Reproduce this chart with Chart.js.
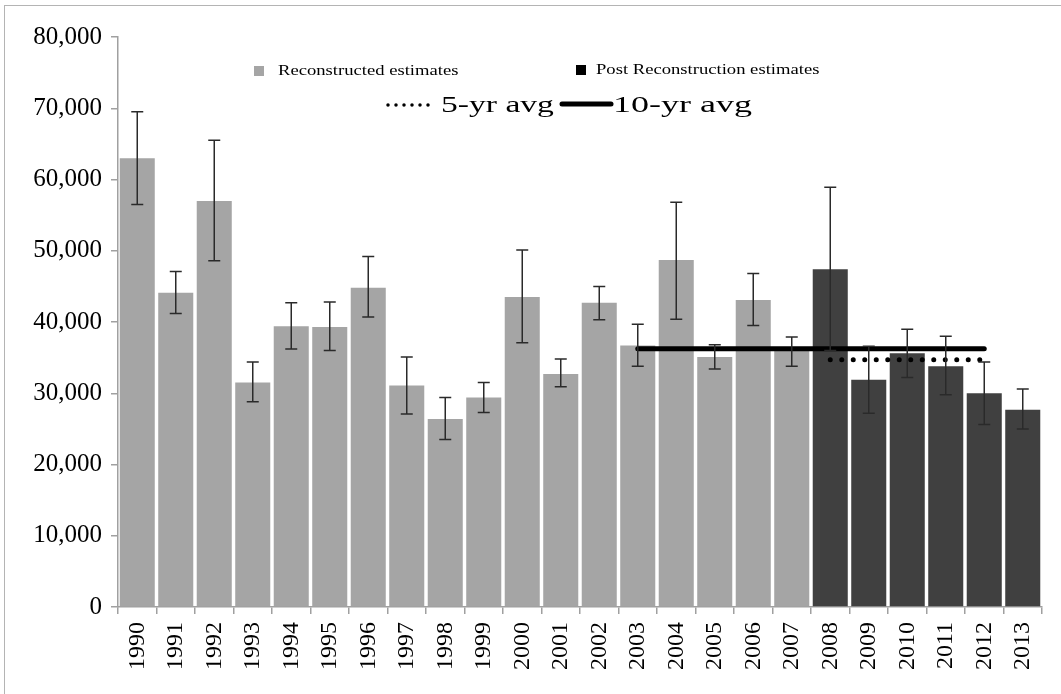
<!DOCTYPE html>
<html>
<head>
<meta charset="utf-8">
<script src="https://cdn.jsdelivr.net/npm/chart.js@4.4.1/dist/chart.umd.min.js"></script>
<style>
  html, body { margin: 0; padding: 0; background: #ffffff; }
  #wrap { position: relative; width: 1061px; height: 694px; }
  #frame { position: absolute; left: 4px; top: 5px; right: 0; bottom: 0;
           border-left: 1px solid #b4b4b4; border-top: 1px solid #b4b4b4; pointer-events: none; }
  canvas { position: absolute; left: 0; top: 0; }
</style>
</head>
<body>
<div id="wrap">
  <canvas id="chart" width="1061" height="694"></canvas>
  <div id="frame"></div>
</div>
<script>
// Annual estimates with lower / upper error limits
const years = [1990, 1991, 1992, 1993, 1994, 1995, 1996, 1997, 1998, 1999, 2000, 2001,
               2002, 2003, 2004, 2005, 2006, 2007, 2008, 2009, 2010, 2011, 2012, 2013];
const estimates = [63000, 44100, 57000, 31500, 39400, 39300, 44800, 31100, 26400, 29400, 43500, 32700,
                   42700, 36700, 48700, 35100, 43100, 36100, 47400, 31900, 35600, 33800, 30000, 27700];
const upperLimit = [69500, 47100, 65500, 34400, 42700, 42800, 49200, 35100, 29400, 31500, 50100, 34800,
                    45000, 39700, 56800, 36800, 46800, 37900, 58900, 36600, 39000, 38000, 34400, 30600];
const lowerLimit = [56500, 41200, 48600, 28800, 36200, 36000, 40700, 27100, 23500, 27300, 37100, 30900,
                    40300, 33800, 40400, 33400, 39500, 33800, 36000, 27200, 32200, 29800, 25600, 25000];
const firstPostYear = 2008;

// Running averages and the years they cover
const avg10Value = 36250;
const avg10Years = [2003, 2012];
const avg5Value = 34700;
const avg5Years = [2008, 2012];

const yTicks = [0, 10000, 20000, 30000, 40000, 50000, 60000, 70000, 80000];

const LIGHT = '#a5a5a5';
const DARK = '#404040';
const AXIS = '#a0a0a0';
const SERIF = '"Liberation Serif", "Times New Roman", serif';

const reconstructed = estimates.map((v, i) => years[i] < firstPostYear ? v : null);
const postRecon = estimates.map((v, i) => years[i] >= firstPostYear ? v : null);
const spanLine = (value, range) => years.map(y => (y >= range[0] && y <= range[1]) ? value : null);

// Vertical error bars with caps, placed through the chart's scales
const errorBars = {
  id: 'errorBars',
  afterDatasetsDraw(chart) {
    const { ctx, scales: { x, y } } = chart;
    ctx.save();
    ctx.strokeStyle = '#2a2a2a';
    ctx.lineWidth = 1.5;
    years.forEach((yr, i) => {
      const px = x.getPixelForValue(i);
      const top = y.getPixelForValue(upperLimit[i]);
      const bot = y.getPixelForValue(lowerLimit[i]);
      ctx.beginPath();
      ctx.moveTo(px, top); ctx.lineTo(px, bot);
      ctx.moveTo(px - 6, top); ctx.lineTo(px + 6, top);
      ctx.moveTo(px - 6, bot); ctx.lineTo(px + 6, bot);
      ctx.stroke();
    });
    ctx.restore();
  }
};

// Legend drawn inside the plot area
const legendBox = {
  id: 'legendBox',
  afterDraw(chart) {
    const ctx = chart.ctx;
    ctx.save();
    ctx.textBaseline = 'middle';
    ctx.textAlign = 'left';
    ctx.fillStyle = LIGHT;
    ctx.fillRect(254, 66, 10, 10);
    ctx.fillStyle = '#000000';
    ctx.fillRect(576, 65, 10, 10);

    const stretched = (text, x, y, size, sx) => {
      ctx.save();
      ctx.translate(x, y);
      ctx.scale(sx, 1);
      ctx.font = size + 'px ' + SERIF;
      ctx.fillStyle = '#000000';
      ctx.fillText(text, 0, 0);
      ctx.restore();
    };
    stretched(chart.data.datasets[0].label, 278, 71, 14, 1.33);
    stretched(chart.data.datasets[1].label, 596, 70, 14, 1.33);

    ctx.strokeStyle = '#000000';
    ctx.lineCap = 'round';
    ctx.lineWidth = 3.5;
    ctx.setLineDash([0, 8]);
    ctx.beginPath(); ctx.moveTo(388, 105); ctx.lineTo(429, 105); ctx.stroke();
    ctx.setLineDash([]);
    ctx.lineWidth = 5;
    ctx.beginPath(); ctx.moveTo(562, 104); ctx.lineTo(611, 104); ctx.stroke();

    stretched(chart.data.datasets[3].label, 441, 106, 24, 1.4);
    stretched(chart.data.datasets[2].label, 613, 106, 24, 1.5);
    ctx.restore();
  }
};

new Chart(document.getElementById('chart'), {
  type: 'bar',
  data: {
    labels: years.map(String),
    datasets: [
      { label: 'Reconstructed estimates', data: reconstructed, backgroundColor: LIGHT,
        grouped: false, barPercentage: 1, categoryPercentage: 0.91, order: 2 },
      { label: 'Post Reconstruction estimates', data: postRecon, backgroundColor: DARK,
        grouped: false, barPercentage: 1, categoryPercentage: 0.91, order: 2 },
      { type: 'line', label: '10-yr avg', data: spanLine(avg10Value, avg10Years),
        borderColor: '#000000', borderWidth: 5, borderCapStyle: 'round',
        pointRadius: 0, spanGaps: false, order: 1 },
      { type: 'line', label: '5-yr avg', data: spanLine(avg5Value, avg5Years),
        borderColor: '#000000', borderWidth: 5, borderCapStyle: 'round', borderDash: [0, 11.5],
        pointRadius: 0, spanGaps: false, order: 0 }
    ]
  },
  options: {
    responsive: false,
    animation: false,
    devicePixelRatio: 1,
    layout: { padding: { left: 0, right: 19, top: 37, bottom: 0 } },
    plugins: { legend: { display: false }, tooltip: { enabled: false } },
    scales: {
      x: {
        offset: true,
        grid: { offset: true, drawOnChartArea: false, drawTicks: true, tickLength: 7, color: AXIS, lineWidth: 1.5 },
        border: { color: AXIS, width: 1.5 },
        ticks: { minRotation: 90, maxRotation: 90, autoSkip: false, padding: 8,
                 color: '#000000', font: { family: SERIF, size: 24 } },
        afterFit(scale) { scale.height = 87; }
      },
      y: {
        min: 0, max: 80000,
        afterBuildTicks(scale) { scale.ticks = yTicks.map(v => ({ value: v })); },
        grid: { drawOnChartArea: false, drawTicks: true, tickLength: 7, color: AXIS, lineWidth: 1.5 },
        border: { color: AXIS, width: 1.5 },
        ticks: { padding: 9, color: '#000000', font: { family: SERIF, size: 25 },
                 callback: v => Number(v).toLocaleString('en-US') },
        afterFit(scale) { scale.width = 118; }
      }
    }
  },
  plugins: [errorBars, legendBox]
});
</script>
</body>
</html>
